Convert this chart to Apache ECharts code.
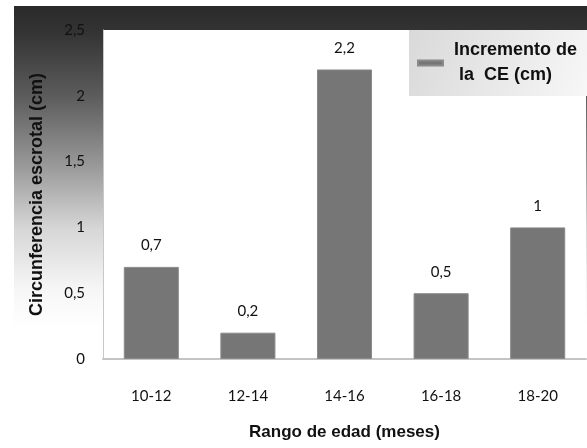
<!DOCTYPE html>
<html>
<head>
<meta charset="utf-8">
<script src="https://cdn.jsdelivr.net/npm/echarts@6/dist/echarts.min.js"></script>
<style>
  html, body { margin: 0; padding: 0; background: #ffffff; }
  #chart { width: 587px; height: 448px; }
</style>
</head>
<body>
<div id="chart"></div>
<script>
// Age ranges (months) and scrotal circumference increase (cm)
const categories = ['10-12', '12-14', '14-16', '16-18', '18-20'];
const incremento = [0.7, 0.2, 2.2, 0.5, 1];
const yTicks = [0, 0.5, 1, 1.5, 2, 2.5];

const seriesName = 'Incremento de\n la  CE (cm)';
const numFont = 'Lato, "Open Sans", sans-serif';
const boldFont = '"Liberation Sans", Arial, sans-serif';
const comma = v => String(v).replace('.', ',');

const chart = echarts.init(document.getElementById('chart'), null, { renderer: 'canvas' });

chart.setOption({
  backgroundColor: '#ffffff',
  animation: false,
  graphic: [
    {
      type: 'rect',
      z: -10,
      shape: { x: 14, y: 6, width: 573, height: 322 },
      style: {
        fill: {
          type: 'linear', x: 0, y: 0, x2: 0, y2: 1,
          colorStops: [
            { offset: 0, color: '#2a2a2a' },
            { offset: 0.08, color: '#333333' },
            { offset: 0.28, color: '#5c5c5c' },
            { offset: 0.49, color: '#979797' },
            { offset: 0.69, color: '#d6d6d6' },
            { offset: 0.88, color: '#f6f6f6' },
            { offset: 1, color: '#ffffff' }
          ]
        }
      }
    },
    {
      type: 'rect',
      z: 1,
      shape: { x: 409, y: 30, width: 178, height: 66 },
      style: {
        fill: {
          type: 'linear', x: 0, y: 0, x2: 1, y2: 1,
          colorStops: [
            { offset: 0, color: '#d9d9d9' },
            { offset: 1, color: '#f7f7f7' }
          ]
        }
      }
    }
  ],
  grid: {
    left: 103, right: 1, top: 30, bottom: 89,
    show: true, backgroundColor: '#ffffff', borderWidth: 0
  },
  legend: {
    show: true,
    left: 412, top: 33,
    orient: 'vertical',
    icon: 'rect',
    itemWidth: 25, itemHeight: 5,
    itemGap: 0,
    z: 5,
    data: [seriesName],
    textStyle: {
      fontFamily: boldFont, fontWeight: 'bold', fontSize: 18,
      color: '#111111', lineHeight: 25, padding: [0, 0, 0, 6]
    }
  },
  xAxis: {
    type: 'category',
    data: categories,
    axisLine: { show: true, lineStyle: { color: '#c4c4c4', width: 2 } },
    axisTick: { show: false },
    axisLabel: {
      margin: 30, fontFamily: numFont, fontSize: 15, color: '#111111'
    },
    name: 'Rango de edad (meses)',
    nameLocation: 'middle',
    nameGap: 65,
    nameTextStyle: {
      fontFamily: boldFont, fontWeight: 'bold', fontSize: 17, color: '#111111'
    }
  },
  yAxis: {
    type: 'value',
    min: yTicks[0],
    max: yTicks[yTicks.length - 1],
    interval: yTicks[1] - yTicks[0],
    splitLine: { show: false },
    axisLine: { show: true, lineStyle: { color: '#c8c8c8', width: 1 } },
    axisTick: { show: false },
    axisLabel: {
      margin: 18, fontFamily: numFont, fontSize: 15, color: '#111111',
      formatter: v => comma(v)
    },
    name: 'Circunferencia escrotal (cm)',
    nameLocation: 'middle',
    nameRotate: 90,
    nameGap: 57,
    nameTextStyle: {
      fontFamily: boldFont, fontWeight: 'bold', fontSize: 18, color: '#111111'
    }
  },
  series: [
    {
      name: seriesName,
      type: 'bar',
      data: incremento,
      barWidth: '57%',
      itemStyle: { color: '#767676', borderColor: '#8a8a8a', borderWidth: 1 },
      label: {
        show: true,
        position: 'top',
        distance: 14,
        fontFamily: numFont,
        fontSize: 15,
        color: '#111111',
        formatter: p => comma(p.value)
      }
    }
  ]
});
</script>
</body>
</html>
